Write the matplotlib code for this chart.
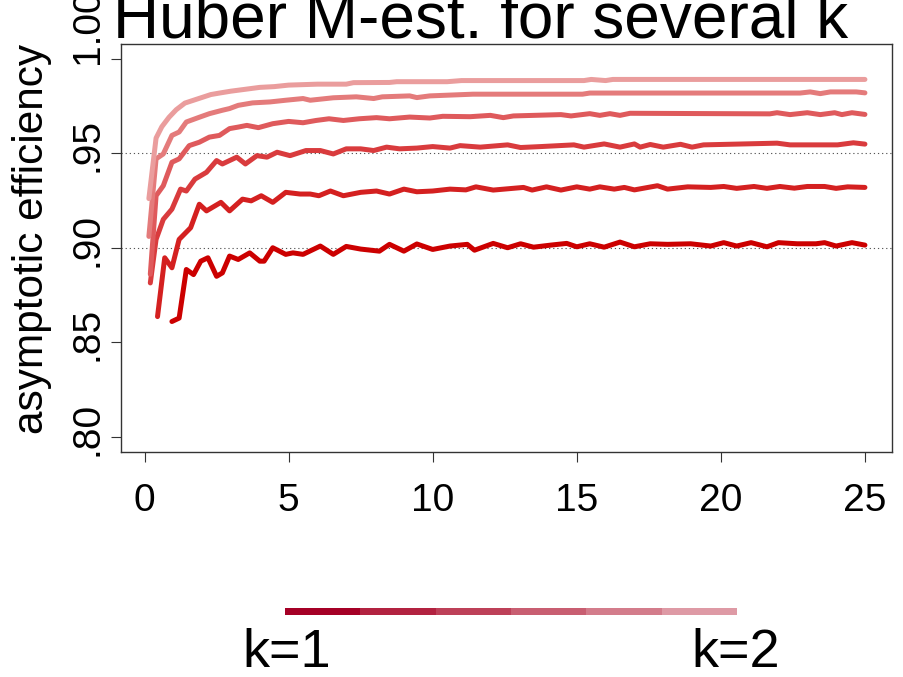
import matplotlib
matplotlib.use("Agg")
import matplotlib.pyplot as plt
from matplotlib import transforms

# ---------------- data ----------------
x_k10 = [0.95, 1.2, 1.45, 1.7, 1.95, 2.2, 2.5, 2.7, 2.95, 3.25, 3.65, 4.0, 4.15, 4.45, 4.9,
         5.15, 5.5, 6.1, 6.55, 7.0, 7.5, 8.15, 8.5, 9.0, 9.45, 10.0, 10.6, 11.2, 11.45, 12.1,
         12.6, 13.05, 13.5, 14.1, 14.65, 15.0, 15.45, 15.95, 16.5, 17.0, 17.55, 18.15, 18.95,
         19.65, 20.1, 20.55, 21.05, 21.6, 22.0, 22.65, 23.3, 23.6, 24.0, 24.55, 25.0]
y_k10 = [0.861, 0.8628, 0.8885, 0.8858, 0.8929, 0.8947, 0.8849, 0.8867, 0.8956, 0.8938,
         0.8973, 0.8929, 0.8929, 0.9000, 0.8965, 0.8973, 0.8965, 0.9009, 0.8965, 0.9007,
         0.8993, 0.8982, 0.9018, 0.8982, 0.9020, 0.8991, 0.9009, 0.9018, 0.8987, 0.9023,
         0.9000, 0.9021, 0.9003, 0.9014, 0.9023, 0.9005, 0.9021, 0.9003, 0.9030, 0.9005,
         0.9021, 0.9018, 0.9021, 0.9009, 0.9027, 0.9009, 0.9027, 0.9005, 0.9027, 0.9021,
         0.9021, 0.9027, 0.9009, 0.9027, 0.9014]

x_k12 = [0.45, 0.7, 0.95, 1.2, 1.6, 1.9, 2.15, 2.65, 2.95, 3.4, 3.7, 4.05, 4.45, 4.9, 5.4,
         5.75, 6.05, 6.45, 6.9, 7.5, 8.05, 8.5, 9.0, 9.45, 10.0, 10.6, 11.15, 11.5, 12.1, 13.15,
         13.45, 13.95, 14.45, 15.0, 15.45, 15.8, 16.3, 16.65, 17.0, 17.8, 18.15, 18.85, 19.65,
         20.1, 20.55, 21.15, 21.6, 22.05, 22.55, 23.0, 23.6, 24.0, 24.4, 25.0]
y_k12 = [0.8636, 0.8947, 0.8894, 0.9044, 0.9106, 0.9230, 0.9195, 0.9240, 0.9195, 0.9257,
         0.9248, 0.9275, 0.9240, 0.9293, 0.9284, 0.9284, 0.9275, 0.9300, 0.9275, 0.9293,
         0.9300, 0.9284, 0.9310, 0.9296, 0.9300, 0.9310, 0.9306, 0.9322, 0.9305, 0.9319,
         0.9305, 0.9322, 0.9305, 0.9322, 0.9310, 0.9322, 0.9310, 0.9319, 0.9306, 0.9328,
         0.9310, 0.9322, 0.9319, 0.9324, 0.9314, 0.9324, 0.9314, 0.9324, 0.9315, 0.9324,
         0.9324, 0.9314, 0.9322, 0.9319]

x_k14 = [0.2, 0.4, 0.65, 0.95, 1.25, 1.45, 1.75, 2.15, 2.5, 2.7, 3.2, 3.5, 3.9, 4.25, 4.6,
         5.05, 5.6, 6.1, 6.55, 7.0, 7.5, 7.95, 8.4, 8.85, 9.45, 10.0, 10.6, 10.95, 11.65, 12.6,
         13.05, 13.75, 14.9, 15.25, 15.95, 16.5, 17.0, 17.2, 17.55, 18.0, 18.6, 19.0, 19.4,
         21.95, 22.4, 24.05, 24.6, 25.0]
y_k14 = [0.8814, 0.9044, 0.9150, 0.9204, 0.9310, 0.9300, 0.9363, 0.9399, 0.9461, 0.9443,
         0.9479, 0.9443, 0.9487, 0.9479, 0.9505, 0.9487, 0.9514, 0.9514, 0.9496, 0.9523,
         0.9523, 0.9514, 0.9532, 0.9523, 0.9527, 0.9535, 0.9527, 0.9540, 0.9532, 0.9544,
         0.9530, 0.9535, 0.9544, 0.9532, 0.9549, 0.9532, 0.9549, 0.9532, 0.9546, 0.9532,
         0.9547, 0.9532, 0.9544, 0.9553, 0.9544, 0.9544, 0.9555, 0.9548]

x_k16 = [0.2, 0.4, 0.65, 0.95, 1.2, 1.55, 1.9, 2.25, 2.6, 2.95, 3.25, 3.55, 3.95, 4.45, 5.0,
         5.5, 5.95, 6.4, 6.9, 7.45, 8.05, 8.5, 9.2, 9.9, 10.35, 11.3, 12.0, 12.45, 12.8, 14.45,
         14.8, 15.45, 15.8, 16.15, 16.5, 16.85, 21.7, 21.95, 22.4, 23.0, 23.45, 23.95, 24.2,
         24.55, 25.0]
y_k16 = [0.886, 0.9275, 0.9328, 0.9452, 0.947, 0.954, 0.9558, 0.9585, 0.9594, 0.963,
         0.9638, 0.9647, 0.9635, 0.9656, 0.9668, 0.9661, 0.9673, 0.9682, 0.9673, 0.9682,
         0.9688, 0.9682, 0.9691, 0.9686, 0.9695, 0.9693, 0.970, 0.9688, 0.9697, 0.9704,
         0.9697, 0.9709, 0.970, 0.9709, 0.970, 0.9711, 0.9708, 0.9714, 0.9704, 0.9714,
         0.9704, 0.9714, 0.9704, 0.9714, 0.9705]

x_k18 = [0.15, 0.4, 0.65, 0.95, 1.2, 1.45, 1.9, 2.25, 2.7, 2.95, 3.25, 3.75, 4.35, 4.9, 5.5,
         5.75, 6.55, 7.35, 7.95, 8.25, 9.2, 9.45, 9.9, 11.4, 15.2, 15.45, 22.75, 23.1, 23.45,
         23.8, 24.7, 25.0]
y_k18 = [0.906, 0.947, 0.9496, 0.9594, 0.9612, 0.9665, 0.969, 0.9709, 0.9727, 0.9736,
         0.9753, 0.9766, 0.9771, 0.978, 0.9789, 0.978, 0.9793, 0.9798, 0.9789, 0.9798,
         0.9803, 0.9794, 0.9803, 0.9812, 0.9812, 0.9818, 0.9818, 0.9824, 0.9815, 0.9824,
         0.9824, 0.9819]

x_k20 = [0.15, 0.4, 0.6, 0.85, 1.1, 1.4, 1.7, 2.0, 2.3, 2.6, 3.0, 3.5, 4.0, 4.5, 5.0,
         6.0, 7.0, 7.25, 8.5, 8.75, 10.5, 11.0, 15.25, 15.5, 16.0, 16.25, 18.5, 25.0]
y_k20 = [0.926, 0.958, 0.964, 0.969, 0.973, 0.9765, 0.978, 0.9795, 0.981, 0.9818,
         0.9828, 0.9838, 0.9848, 0.9852, 0.986, 0.9865, 0.9865, 0.9873, 0.9874, 0.9878,
         0.9878, 0.9884, 0.9884, 0.989, 0.9884, 0.989, 0.989, 0.989]

series_x = [x_k10, x_k12, x_k14, x_k16, x_k18, x_k20]
series_y = [y_k10, y_k12, y_k14, y_k16, y_k18, y_k20]
line_colors = ['#CC0000', '#D42020', '#D93B3D', '#DF5A5C', '#E47B7B', '#EA9D9D']

ref_lines = [0.90, 0.95]
x_ticks = [0, 5, 10, 15, 20, 25]
x_ticklabels = ['0', '5', '10', '15', '20', '25']
y_ticks = [0.80, 0.85, 0.90, 0.95, 1.00]
y_ticklabels = ['.80', '.85', '.90', '.95', '1.00']

legend_colors = ['#A50026', '#B22240', '#BD4058', '#C85E71', '#D37C8B', '#DE9AA5']
legend_labels = ['k=1', 'k=2']

title = 'Huber M-est. for several k'
ylabel = 'asymptotic efficiency'

# ---------------- figure ----------------
W, H = 904, 677
DPI = 100
plt.rcParams['font.family'] = ['Liberation Sans', 'DejaVu Sans']
fig = plt.figure(figsize=(W / DPI, H / DPI), dpi=DPI)

def fx(px):
    return px / W

def fy(py):
    return 1 - py / H

L, R, T, B = 121.5, 892.3, 43.5, 452.0
ax = fig.add_axes([fx(L), fy(B), (R - L) / W, (B - T) / H])

for xs, ys, c in zip(series_x, series_y, line_colors):
    ax.plot(xs, ys, color=c, lw=3.6, solid_capstyle='round', solid_joinstyle='round', zorder=3)

for v in ref_lines:
    ax.axhline(v, color='#555555', lw=0.8, linestyle=(0, (1.1, 2.6)), zorder=2)

ax.set_xlim(-0.80, 25.95)
ax.set_ylim(0.792, 1.008)

for s in ax.spines.values():
    s.set_color('#333333')
    s.set_linewidth(1.0)

ax.set_xticks(x_ticks)
ax.set_xticklabels(x_ticklabels, fontsize=28)
ax.tick_params(axis='x', length=7.2, width=0.8, color='#333333', pad=15)
ax.set_yticks(y_ticks)
ax.set_yticklabels([])
ax.tick_params(axis='y', length=7.2, width=0.8, color='#333333')

# y tick labels (rotated, shifted as in the reference)
for v, lab in zip(y_ticks, y_ticklabels):
    shift = 32 if lab == '1.00' else 8  # pixels upward
    tr = transforms.blended_transform_factory(ax.transAxes, ax.transData) + \
        transforms.ScaledTranslation(-33.5 / DPI, shift / DPI, fig.dpi_scale_trans)
    ax.text(0, v, lab, transform=tr, rotation=90, ha='center', va='center',
            fontsize=28, clip_on=False)

fig.text(fx(32), fy(239), ylabel, rotation=90, ha='center', va='center', fontsize=30.5)
fig.text(fx(481), fy(38), title, ha='center', va='baseline', fontsize=46)

# legend colour bar
lax = fig.add_axes([fx(285), fy(614.5), 452 / W, 7 / H])
lax.bar(range(len(legend_colors)), [1] * len(legend_colors), width=1.0, align='edge',
        color=legend_colors, linewidth=0)
lax.set_xlim(0, len(legend_colors))
lax.set_ylim(0, 1)
lax.axis('off')

fig.text(fx(287), fy(667), legend_labels[0], ha='center', va='baseline', fontsize=39)
fig.text(fx(736), fy(667), legend_labels[1], ha='center', va='baseline', fontsize=39)

fig.savefig('out.png', dpi=DPI)
